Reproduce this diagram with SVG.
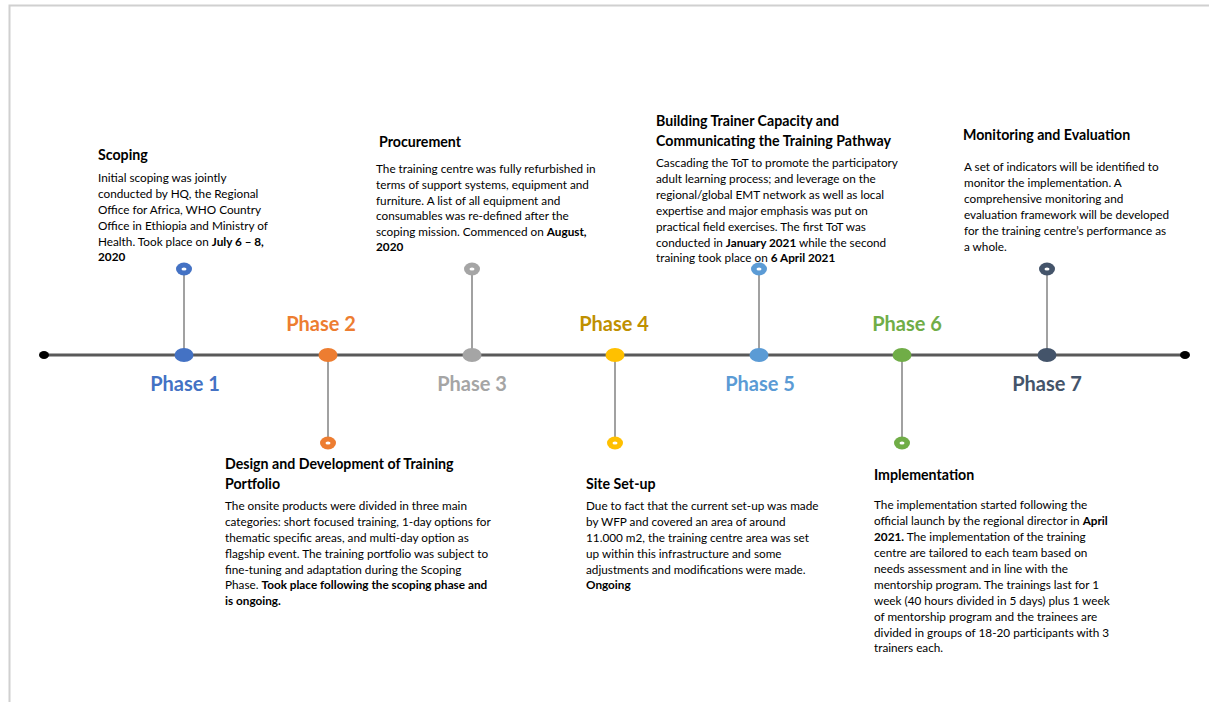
<svg xmlns="http://www.w3.org/2000/svg" width="1209" height="702" viewBox="0 0 1209 702">
<style>
.t{font-family:Lato,"Liberation Sans",sans-serif;font-size:14.2px;font-weight:bold;fill:#000}
.b{font-family:Lato,"Liberation Sans",sans-serif;font-size:11.75px;fill:#000}
.bb{font-weight:bold}
.ph{font-family:Lato,"Liberation Sans",sans-serif;font-size:20px;font-weight:bold;text-anchor:middle}
.stem{stroke:#6f6f6f;stroke-width:1.3}
.hole{fill:#fff}
</style>
<rect x="0" y="0" width="1209" height="702" fill="#fff"/>
<path d="M9.5 702 V5.5 H1209" fill="none" stroke="#d0d0d0" stroke-width="2"/>
<g id="connectors">
<line x1="44" y1="355" x2="1185" y2="355" stroke="#595959" stroke-width="3"/>
<ellipse cx="44" cy="355" rx="5" ry="4" fill="#000"/>
<ellipse cx="1185" cy="355" rx="5" ry="4" fill="#000"/>
<line class="stem" x1="184" y1="355" x2="184" y2="269"/>
<line class="stem" x1="328" y1="355" x2="328" y2="443"/>
<line class="stem" x1="472" y1="355" x2="472" y2="269"/>
<line class="stem" x1="615" y1="355" x2="615" y2="443"/>
<line class="stem" x1="759" y1="355" x2="759" y2="269"/>
<line class="stem" x1="902" y1="355" x2="902" y2="443"/>
<line class="stem" x1="1047" y1="355" x2="1047" y2="269"/>
</g>
<g id="phase1">
<ellipse cx="184" cy="355" rx="9.5" ry="7" fill="#4472C4"/>
<ellipse cx="184" cy="269" rx="8" ry="6.5" fill="#4472C4"/><ellipse class="hole" cx="184" cy="269" rx="2.5" ry="1.5"/>
<text class="ph" x="185" y="391" fill="#4472C4">Phase 1</text>
<text class="t" x="98" y="160">Scoping</text>
<text class="b" x="98" y="182">Initial scoping was jointly</text>
<text class="b" x="98" y="198">conducted by HQ, the Regional</text>
<text class="b" x="98" y="214">Office for Africa, WHO Country</text>
<text class="b" x="98" y="230">Office in Ethiopia and Ministry of</text>
<text class="b" x="98" y="246">Health. Took place on <tspan class="bb">July 6 – 8,</tspan></text>
<text class="b bb" x="98" y="261">2020</text>
</g>
<g id="phase2">
<ellipse cx="328" cy="355" rx="9.5" ry="7" fill="#ED7D31"/>
<ellipse cx="328" cy="443" rx="8" ry="6.5" fill="#ED7D31"/><ellipse class="hole" cx="328" cy="443" rx="2.5" ry="1.5"/>
<text class="ph" x="321" y="331" fill="#ED7D31">Phase 2</text>
<text class="t" x="225" y="469">Design and Development of Training</text>
<text class="t" x="225" y="489">Portfolio</text>
<text class="b" x="225" y="510">The onsite products were divided in three main</text>
<text class="b" x="225" y="526">categories: short focused training, 1-day options for</text>
<text class="b" x="225" y="542">thematic specific areas, and multi-day option as</text>
<text class="b" x="225" y="558">flagship event. The training portfolio was subject to</text>
<text class="b" x="225" y="574">fine-tuning and adaptation during the Scoping</text>
<text class="b" x="225" y="589">Phase. <tspan class="bb">Took place following the scoping phase and</tspan></text>
<text class="b bb" x="225" y="605">is ongoing.</text>
</g>
<g id="phase3">
<ellipse cx="472" cy="355" rx="9.5" ry="7" fill="#A5A5A5"/>
<ellipse cx="472" cy="269" rx="8" ry="6.5" fill="#A5A5A5"/><ellipse class="hole" cx="472" cy="269" rx="2.5" ry="1.5"/>
<text class="ph" x="472" y="391" fill="#A5A5A5">Phase 3</text>
<text class="t" x="379" y="147">Procurement</text>
<text class="b" x="376" y="173">The training centre was fully refurbished in</text>
<text class="b" x="376" y="189">terms of support systems, equipment and</text>
<text class="b" x="376" y="205">furniture. A list of all equipment and</text>
<text class="b" x="376" y="220">consumables was re-defined after the</text>
<text class="b" x="376" y="236">scoping mission. Commenced on <tspan class="bb">August,</tspan></text>
<text class="b bb" x="376" y="251">2020</text>
</g>
<g id="phase4">
<ellipse cx="615" cy="355" rx="9.5" ry="7" fill="#FFC000"/>
<ellipse cx="615" cy="443" rx="8" ry="6.5" fill="#FFC000"/><ellipse class="hole" cx="615" cy="443" rx="2.5" ry="1.5"/>
<text class="ph" x="614" y="331" fill="#BF9000">Phase 4</text>
<text class="t" x="586" y="489">Site Set-up</text>
<text class="b" x="586" y="510">Due to fact that the current set-up was made</text>
<text class="b" x="586" y="526">by WFP and covered an area of around</text>
<text class="b" x="586" y="542">11.000 m2, the training centre area was set</text>
<text class="b" x="586" y="558">up within this infrastructure and some</text>
<text class="b" x="586" y="574">adjustments and modifications were made.</text>
<text class="b bb" x="586" y="589">Ongoing</text>
</g>
<g id="phase5">
<ellipse cx="759" cy="355" rx="9.5" ry="7" fill="#5B9BD5"/>
<ellipse cx="759" cy="269" rx="8" ry="6.5" fill="#5B9BD5"/><ellipse class="hole" cx="759" cy="269" rx="2.5" ry="1.5"/>
<text class="ph" x="760" y="391" fill="#5B9BD5">Phase 5</text>
<text class="t" x="656" y="126">Building Trainer Capacity and</text>
<text class="t" x="656" y="146">Communicating the Training Pathway</text>
<text class="b" x="656" y="167">Cascading the ToT to promote the participatory</text>
<text class="b" x="656" y="183">adult learning process; and leverage on the</text>
<text class="b" x="656" y="199">regional/global EMT network as well as local</text>
<text class="b" x="656" y="215">expertise and major emphasis was put on</text>
<text class="b" x="656" y="231">practical field exercises. The first ToT was</text>
<text class="b" x="656" y="247">conducted in <tspan class="bb">January 2021</tspan> while the second</text>
<text class="b" x="656" y="262">training took place on <tspan class="bb">6 April 2021</tspan></text>
</g>
<g id="phase6">
<ellipse cx="902" cy="355" rx="9.5" ry="7" fill="#70AD47"/>
<ellipse cx="902" cy="443" rx="8" ry="6.5" fill="#70AD47"/><ellipse class="hole" cx="902" cy="443" rx="2.5" ry="1.5"/>
<text class="ph" x="907" y="331" fill="#70AD47">Phase 6</text>
<text class="t" x="874" y="480">Implementation</text>
<text class="b" x="874" y="509">The implementation started following the</text>
<text class="b" x="874" y="525">official launch by the regional director in <tspan class="bb">April</tspan></text>
<text class="b" x="874" y="541"><tspan class="bb">2021.</tspan> The implementation of the training</text>
<text class="b" x="874" y="557">centre are tailored to each team based on</text>
<text class="b" x="874" y="573">needs assessment and in line with the</text>
<text class="b" x="874" y="589">mentorship program. The trainings last for 1</text>
<text class="b" x="874" y="605">week (40 hours divided in 5 days) plus 1 week</text>
<text class="b" x="874" y="621">of mentorship program and the trainees are</text>
<text class="b" x="874" y="637">divided in groups of 18-20 participants with 3</text>
<text class="b" x="874" y="652">trainers each.</text>
</g>
<g id="phase7">
<ellipse cx="1047" cy="355" rx="9.5" ry="7" fill="#44546A"/>
<ellipse cx="1047" cy="269" rx="8" ry="6.5" fill="#44546A"/><ellipse class="hole" cx="1047" cy="269" rx="2.5" ry="1.5"/>
<text class="ph" x="1047" y="391" fill="#44546A">Phase 7</text>
<text class="t" x="963" y="140">Monitoring and Evaluation</text>
<text class="b" x="964" y="171">A set of indicators will be identified to</text>
<text class="b" x="964" y="187">monitor the implementation. A</text>
<text class="b" x="964" y="203">comprehensive monitoring and</text>
<text class="b" x="964" y="219">evaluation framework will be developed</text>
<text class="b" x="964" y="235">for the training centre’s performance as</text>
<text class="b" x="964" y="251">a whole.</text>
</g>
</svg>
